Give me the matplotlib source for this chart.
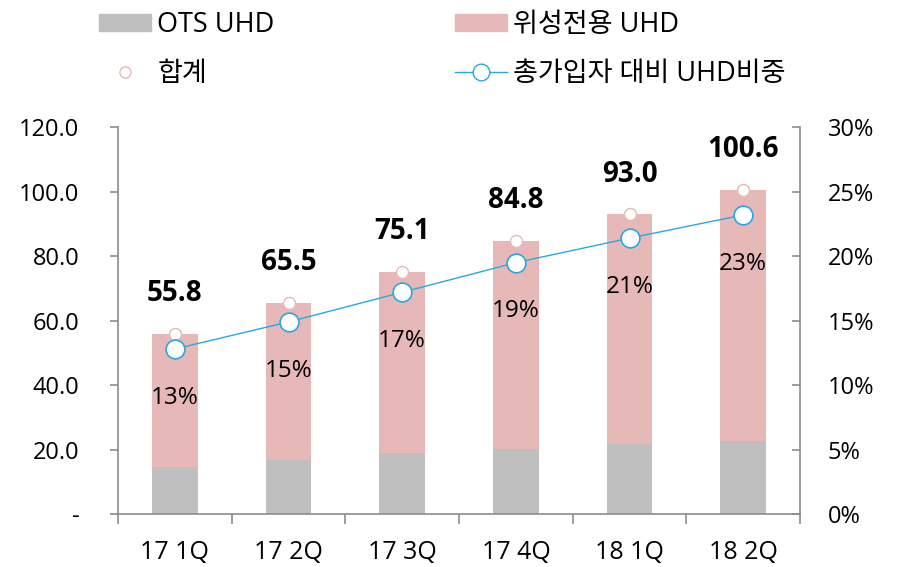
import matplotlib.pyplot as plt
import numpy as np
from matplotlib.patches import Patch
from matplotlib.lines import Line2D

plt.rcParams['font.family'] = ['Open Sans', 'Noto Sans CJK KR', 'DejaVu Sans']

quarters = ['17 1Q', '17 2Q', '17 3Q', '17 4Q', '18 1Q', '18 2Q']
ots = [14.5, 16.8, 18.8, 20.3, 21.6, 22.5]
total = [55.8, 65.5, 75.1, 84.8, 93.0, 100.6]
ratio = [12.8, 14.9, 17.2, 19.5, 21.4, 23.2]
ratio_labels = ['13%', '15%', '17%', '19%', '21%', '23%']

sat = [t - o for t, o in zip(total, ots)]

gray = '#BFBFBF'
pink = '#E6B9B8'
blue = '#29A8E0'
axc = '#8C8C8C'

fig = plt.figure(figsize=(9.03, 5.67), dpi=100)
ax = fig.add_axes([0.1307, 0.0935, 0.7553, 0.682])
x = np.arange(len(quarters))

ax.bar(x, ots, width=0.4, color=gray, zorder=2)
ax.bar(x, sat, bottom=ots, width=0.4, color=pink, zorder=2)
ax.scatter(x, total, s=75, facecolor='white', edgecolor=pink, linewidth=1, zorder=3)
for i, t in enumerate(total):
    ax.annotate(f'{t:.1f}', (x[i], t), xytext=(0, 29), textcoords='offset points',
                ha='center', va='center', fontsize=20, fontweight='bold')

ax.set_xlim(-0.5, 5.5)
ax.set_ylim(0, 120)
ax.set_yticks(np.arange(0, 121, 20))
ax.set_yticklabels(['-'] + [f'{v:.1f}' for v in np.arange(20, 121, 20)], fontsize=17)
ax.set_xticks(x)
ax.set_xticklabels(quarters, fontsize=18)
ax.set_xticks(np.arange(-0.5, 6, 1), minor=True)
ax.tick_params(axis='x', which='major', length=0, pad=19)
ax.tick_params(axis='x', which='minor', length=7, color=axc, width=1.2)
ax.tick_params(axis='y', length=6, color=axc, width=1.2, pad=22)
for s in ['top', 'right']:
    ax.spines[s].set_visible(False)
for s in ['left', 'bottom']:
    ax.spines[s].set_color(axc)
    ax.spines[s].set_linewidth(1.2)

ax2 = ax.twinx()
ax2.plot(x, ratio, color=blue, lw=1, marker='o', ms=13.5, mfc='white', mec=blue, mew=1.2, zorder=4)
for i, r in enumerate(ratio):
    ax2.annotate(ratio_labels[i], (x[i], r), xytext=(0, -35), textcoords='offset points',
                 ha='center', va='center', fontsize=17.5)
ax2.set_ylim(0, 30)
ax2.set_yticks(np.arange(0, 31, 5))
ax2.set_yticklabels([f'{v}%' for v in range(0, 31, 5)], fontsize=17)
ax2.tick_params(axis='y', direction='in', length=6, color=axc, width=1.2, pad=20)
for s in ['top', 'left', 'bottom']:
    ax2.spines[s].set_visible(False)
ax2.spines['right'].set_color(axc)
ax2.spines['right'].set_linewidth(1.2)

handles = [
    Patch(color=gray),
    Line2D([], [], ls='none', marker='o', ms=8, mfc='white', mec=pink),
    Patch(color=pink),
    Line2D([], [], color=blue, lw=1, marker='o', ms=12, mfc='white', mec=blue),
]
labels = ['OTS UHD', '합계', '위성전용 UHD', '총가입자 대비 UHD비중']
fig.legend(handles, labels, ncol=2, loc='upper left', bbox_to_anchor=(0.0855, 1.019),
           frameon=False, fontsize=19.5, handlelength=1.93, handleheight=0.6,
           handletextpad=0.22, labelspacing=0.78, columnspacing=6.67, borderpad=0.3)

fig.savefig('out.png', dpi=100)
